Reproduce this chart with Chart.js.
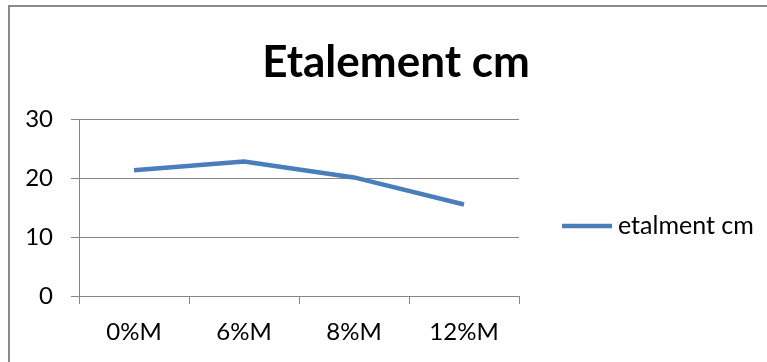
<!DOCTYPE html>
<html>
<head>
<meta charset="utf-8">
<script src="https://cdn.jsdelivr.net/npm/chart.js@4"></script>
<style>
  html, body { margin: 0; padding: 0; background: #ffffff; }
  #wrap { position: relative; width: 767px; height: 362px; }
</style>
</head>
<body>
<div id="wrap"><canvas id="chart" width="767" height="362"></canvas></div>
<script>
// Spread measurements per mix
const categories = ['0%M', '6%M', '8%M', '12%M'];
const etalment = [21.3, 22.8, 20.1, 15.5];
const seriesLabel = 'etalment cm';
const chartTitle = 'Etalement cm';
const yTickValues = [0, 10, 20, 30];

const axisGray = '#868686';
const lineBlue = '#4a7ebb';
const fontFamily = 'Lato, "Open Sans", sans-serif';

// Outer frame of the chart object
const framePlugin = {
  id: 'frame',
  beforeDraw(chart) {
    const ctx = chart.ctx;
    ctx.save();
    ctx.strokeStyle = '#8a8a8a';
    ctx.lineWidth = 2;
    ctx.strokeRect(9, 6, 900, 500);
    ctx.restore();
  }
};

// Legend entry to the right of the plot: line sample and series name
const sideLegendPlugin = {
  id: 'sideLegend',
  afterDraw(chart) {
    const ctx = chart.ctx;
    const ds = chart.data.datasets[0];
    const y = 226;
    ctx.save();
    ctx.strokeStyle = ds.borderColor;
    ctx.lineWidth = ds.borderWidth;
    ctx.lineCap = 'butt';
    ctx.beginPath();
    ctx.moveTo(562, y);
    ctx.lineTo(612, y);
    ctx.stroke();
    ctx.fillStyle = '#000000';
    ctx.font = '25px ' + fontFamily;
    ctx.textBaseline = 'middle';
    ctx.textAlign = 'left';
    ctx.fillText(ds.label, 618, y);
    ctx.restore();
  }
};

new Chart(document.getElementById('chart'), {
  type: 'line',
  data: {
    labels: categories,
    datasets: [{
      label: seriesLabel,
      data: etalment,
      borderColor: lineBlue,
      backgroundColor: lineBlue,
      borderWidth: 4.5,
      borderCapStyle: 'butt',
      borderJoinStyle: 'round',
      pointRadius: 0,
      pointHoverRadius: 0,
      tension: 0,
      fill: false
    }]
  },
  options: {
    responsive: false,
    animation: false,
    events: [],
    layout: { padding: { left: 25, right: 0, top: 0, bottom: 0 } },
    plugins: {
      legend: { display: false },
      tooltip: { enabled: false },
      title: {
        display: true,
        text: chartTitle,
        color: '#000000',
        font: { family: fontFamily, size: 44, weight: 'bold', lineHeight: 1.2 },
        padding: { top: 36, bottom: 30.2 }
      }
    },
    scales: {
      x: {
        type: 'category',
        offset: true,
        grid: {
          offset: true,
          drawOnChartArea: false,
          drawTicks: true,
          tickLength: 8,
          color: axisGray,
          lineWidth: 1
        },
        border: { display: true, color: axisGray, width: 1 },
        ticks: {
          color: '#000000',
          font: { family: fontFamily, size: 24 },
          padding: 14,
          maxRotation: 0
        },
        afterFit(scale) { scale.height = 66; }
      },
      y: {
        min: 0,
        max: 30,
        afterBuildTicks(scale) {
          scale.ticks = yTickValues.map(v => ({ value: v }));
        },
        grid: {
          drawTicks: true,
          tickLength: 8,
          color: axisGray,
          lineWidth: 1
        },
        border: { display: true, color: axisGray, width: 1 },
        ticks: {
          color: '#000000',
          font: { family: fontFamily, size: 24 },
          padding: 18
        },
        afterFit(scale) { scale.width = 54; }
      },
      legendSpace: {
        position: 'right',
        display: true,
        grid: { display: false, drawTicks: false },
        border: { display: false },
        ticks: { display: false },
        afterFit(scale) { scale.width = 248; }
      }
    }
  },
  plugins: [framePlugin, sideLegendPlugin]
});
</script>
</body>
</html>
